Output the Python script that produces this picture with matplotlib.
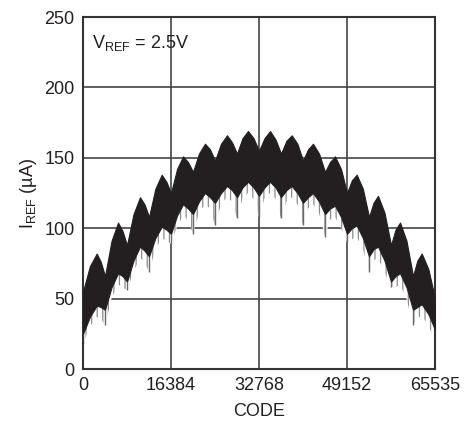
import matplotlib.pyplot as plt

# Reference current vs DAC code, one hump per 4096-code segment
edge_code = [0, 4096, 8192, 12288, 16384, 20480, 24576, 28672, 32768,
             36864, 40960, 45056, 49152, 53248, 57344, 61440, 65535]
peak_code = [2550, 6520, 10610, 14650, 18620, 22710, 26810, 30720,
             34820, 38860, 42820, 46920, 50960, 54920, 59020, 63060]

# upper edge of the trace (uA): at segment edges, rising flank, hump top, falling flank
top_edge = [55, 66, 88, 108, 125, 140, 148, 153, 155, 153, 148, 140, 125, 108, 88, 66, 50]
top_rise = [73, 91, 110, 128, 142, 153, 160, 164, 164, 162, 156, 147, 134, 118, 99, 77]
top_peak = [82, 104, 122, 138, 151, 160, 166, 169, 169, 166, 160, 151, 138, 123, 104, 82]
top_fall = [76, 98, 117, 133, 147, 156, 161, 164, 163, 160, 153, 142, 128, 111, 91, 71]

# lower edge of the dense band (uA)
low_edge = [25, 42, 62, 80, 96, 110, 118, 122, 123, 122, 118, 110, 96, 80, 62, 42, 28]
low_rise = [37, 58, 77, 93, 109, 119, 125, 129, 129, 127, 122, 114, 100, 85, 66, 44]
low_peak = [45, 68, 87, 101, 117, 125, 130, 133, 133, 130, 125, 116, 102, 87, 68, 46]
low_fall = [44, 66, 84, 99, 114, 122, 127, 129, 129, 125, 119, 108, 93, 77, 58, 39]

# faint tails below the band (uA)
spike_edge = [18, 31, 56, 69, 89, 96, 102, 107, 108, 107, 102, 94, 90, 69, 58, 31, 20]
tail_rise = [30, 50, 69, 85, 101, 111, 117, 121, 121, 119, 114, 106, 92, 77, 58, 36]
tail_peak = [37, 60, 79, 93, 109, 117, 122, 125, 125, 122, 117, 108, 94, 79, 60, 38]
tail_fall = [36, 58, 76, 91, 106, 114, 119, 121, 121, 117, 111, 100, 85, 69, 50, 31]

x_ticks = [0, 16384, 32768, 49152, 65535]
y_ticks = [0, 50, 100, 150, 200, 250]

plt.rcParams['font.family'] = ['Liberation Sans', 'DejaVu Sans']
plt.rcParams['mathtext.fontset'] = 'custom'
plt.rcParams['mathtext.rm'] = 'Liberation Sans'
plt.rcParams['mathtext.it'] = 'Liberation Sans'
plt.rcParams['hatch.linewidth'] = 0.9

# walk each segment: edge, rising flank, top, falling flank
codes, top, low, tail = [], [], [], []
for k in range(len(peak_code)):
    a, b, p = edge_code[k], edge_code[k + 1], peak_code[k]
    codes += [a, (a + p) / 2, p, (p + b) / 2]
    top += [top_edge[k], top_rise[k], top_peak[k], top_fall[k]]
    low += [low_edge[k], low_rise[k], low_peak[k], low_fall[k]]
    tail += [spike_edge[k], tail_rise[k], tail_peak[k], tail_fall[k]]
codes.append(edge_code[-1])
top.append(top_edge[-1])
low.append(low_edge[-1])
tail.append(spike_edge[-1])

ink = '#231f20'
fig = plt.figure(figsize=(4.73, 4.26), dpi=100)
ax = fig.add_axes([83 / 473, 57 / 426, 352 / 473, 352 / 426])

ax.fill_between(codes, tail, low, facecolor='white', edgecolor='#8a8a8a',
                hatch='|||', lw=0, zorder=2)
ax.fill_between(codes, low, top, color=ink, lw=0.8, edgecolor=ink, zorder=3)
ax.vlines(edge_code, spike_edge, low_edge, color='#6a6a6a', lw=1.0, zorder=2)

ax.set_xlim(0, 65535)
ax.set_ylim(0, 250)
ax.set_xticks(x_ticks)
ax.set_yticks(y_ticks)
ax.tick_params(length=0, labelsize=13, colors=ink, pad=6)
ax.grid(True, color='#444444', lw=1.2, zorder=1)
ax.set_axisbelow(True)
for s in ax.spines.values():
    s.set_color('#333333')
    s.set_linewidth(1.5)

ax.set_xlabel('CODE', fontsize=13, color=ink, labelpad=6)
ax.set_ylabel(r'I$_{\mathrm{REF}}$ (µA)', fontsize=13, color=ink, labelpad=4)
ax.text(0.025, 0.955, r'V$_{\mathrm{REF}}$ = 2.5V', transform=ax.transAxes,
        fontsize=13, color=ink, va='top', ha='left', zorder=5)

fig.savefig('out.png', dpi=100)
